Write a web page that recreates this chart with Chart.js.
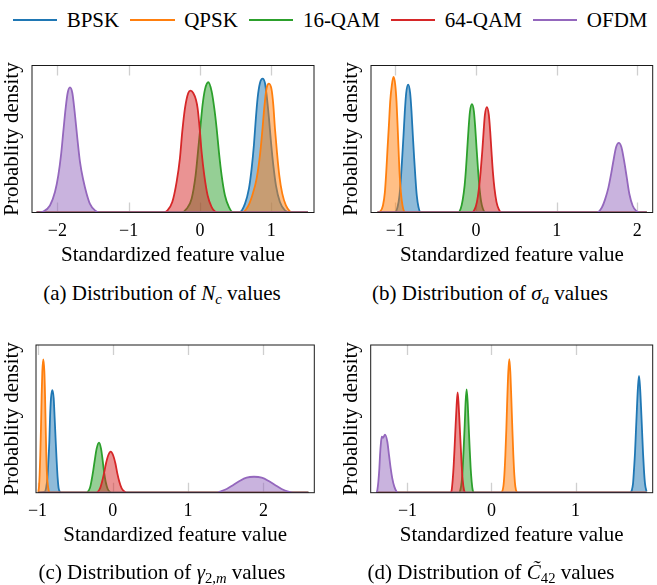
<!DOCTYPE html>
<html>
<head>
<meta charset="utf-8">
<script src="https://cdn.jsdelivr.net/npm/chart.js@4.4.1/dist/chart.umd.min.js"></script>
<style>
  body { margin: 0; width: 657px; height: 585px; background: #fff; position: relative; overflow: hidden;
         font-family: "Liberation Serif", "Times New Roman", serif; color: #000; }
  .legend { position: absolute; left: 12.7px; top: 7.5px; display: flex; align-items: center; font-size: 21px;
            line-height: 25px; white-space: nowrap; width: 660px; }
  .legend .it { display: flex; align-items: center; margin-right: 11px; flex: none; }
  .legend .sw { display: inline-block; width: 44.6px; height: 2px; margin-right: 9.4px; }
  canvas { position: absolute; }
  .cap { position: absolute; font-size: 21px; white-space: nowrap; transform: translate(-50%, -50%); line-height: 25px; }
  .cap sub { font-size: 70%; vertical-align: -0.3em; line-height: 0; }
</style>
</head>
<body>
<div class="legend" id="legend"></div>

<canvas id="chartNc" width="330" height="240" style="left:0px;top:40px"></canvas>
<canvas id="chartSa" width="327" height="240" style="left:330px;top:40px"></canvas>
<canvas id="chartGm" width="330" height="240" style="left:0px;top:320px"></canvas>
<canvas id="chartCq" width="327" height="240" style="left:330px;top:320px"></canvas>

<div class="cap" style="left:162px;top:293px">(a) Distribution of <i>N</i><sub><i>c</i></sub> values</div>
<div class="cap" style="left:490px;top:293px">(b) Distribution of <i>σ</i><sub><i>a</i></sub> values</div>
<div class="cap" style="left:162px;top:572px">(c) Distribution of <i>γ</i><sub>2,<i>m</i></sub> values</div>
<div class="cap" style="left:491px;top:572px">(d) Distribution of <i>C̃</i><sub>42</sub> values</div>

<script>
// series names (legend order)
const seriesNames = ["BPSK", "QPSK", "16-QAM", "64-QAM", "OFDM"];

// tick labels per panel
const ncTicks = [-2, -1, 0, 1];
const saTicks = [-1, 0, 1, 2];
const gmTicks = [-1, 0, 1, 2];
const cqTicks = [-1, 0, 1];

// (a) N_c densities, [value, density]
const ncBPSK = [[-2.29,0],[0.55,0],[0.631,0.059],[0.687,0.162],[0.725,0.299],[0.757,0.459],[0.781,0.619],[0.809,0.779],[0.842,0.881],[0.879,0.911],[0.912,0.881],[0.935,0.801],[0.968,0.642],[0.996,0.482],[1.029,0.322],[1.066,0.185],[1.122,0.071],[1.192,0.014],[1.26,0],[1.515,0]];
const ncQPSK = [[-2.29,0],[0.594,0],[0.669,0.037],[0.734,0.116],[0.795,0.231],[0.842,0.39],[0.874,0.55],[0.902,0.71],[0.935,0.847],[0.968,0.877],[1.005,0.836],[1.029,0.733],[1.052,0.573],[1.08,0.413],[1.113,0.253],[1.155,0.128],[1.206,0.048],[1.262,0.007],[1.3,0],[1.515,0]];
const nc16QAM = [[-2.29,0],[-0.257,0],[-0.187,0.025],[-0.117,0.094],[-0.061,0.253],[-0.023,0.436],[0.009,0.596],[0.037,0.733],[0.07,0.836],[0.117,0.886],[0.164,0.824],[0.201,0.71],[0.234,0.573],[0.266,0.413],[0.304,0.253],[0.351,0.116],[0.407,0.037],[0.467,0],[1.515,0]];
const nc64QAM = [[-2.29,0],[-0.5,0],[-0.467,0.009],[-0.388,0.071],[-0.327,0.208],[-0.281,0.368],[-0.248,0.55],[-0.21,0.71],[-0.164,0.813],[-0.131,0.829],[-0.094,0.813],[-0.056,0.767],[-0.033,0.71],[0.0,0.55],[0.023,0.413],[0.061,0.253],[0.108,0.116],[0.164,0.037],[0.21,0.007],[0.25,0],[1.515,0]];
const ncOFDM = [[-2.29,0],[-2.197,0.007],[-2.104,0.048],[-2.034,0.139],[-1.987,0.253],[-1.949,0.39],[-1.917,0.55],[-1.884,0.71],[-1.856,0.813],[-1.823,0.851],[-1.79,0.813],[-1.758,0.687],[-1.72,0.505],[-1.683,0.345],[-1.636,0.219],[-1.59,0.128],[-1.543,0.059],[-1.473,0.014],[-1.4,0],[1.515,0]];

// (b) sigma_a densities
const saBPSK = [[-1.218,0],[-1.004,0],[-0.971,0.037],[-0.947,0.116],[-0.93,0.231],[-0.914,0.368],[-0.897,0.527],[-0.881,0.687],[-0.864,0.813],[-0.84,0.87],[-0.815,0.813],[-0.798,0.687],[-0.782,0.527],[-0.765,0.368],[-0.749,0.231],[-0.733,0.116],[-0.712,0.037],[-0.683,0],[2.115,0]];
const saQPSK = [[-1.218,0],[-1.185,0.007],[-1.152,0.048],[-1.128,0.139],[-1.111,0.276],[-1.095,0.436],[-1.078,0.596],[-1.062,0.756],[-1.041,0.87],[-1.021,0.922],[-1.0,0.87],[-0.984,0.756],[-0.971,0.596],[-0.959,0.436],[-0.947,0.276],[-0.93,0.139],[-0.91,0.048],[-0.889,0.007],[-0.86,0],[2.115,0]];
const sa16QAM = [[-1.218,0],[-0.222,0],[-0.189,0.025],[-0.165,0.082],[-0.14,0.185],[-0.123,0.299],[-0.107,0.436],[-0.091,0.573],[-0.074,0.687],[-0.049,0.737],[-0.025,0.687],[-0.008,0.573],[0.008,0.436],[0.025,0.299],[0.041,0.185],[0.062,0.082],[0.086,0.025],[0.119,0],[2.115,0]];
const sa64QAM = [[-1.218,0],[-0.053,0],[-0.016,0.021],[0.012,0.071],[0.037,0.162],[0.058,0.276],[0.078,0.413],[0.095,0.55],[0.111,0.664],[0.136,0.717],[0.16,0.664],[0.177,0.55],[0.193,0.413],[0.21,0.276],[0.23,0.162],[0.255,0.071],[0.284,0.021],[0.317,0],[2.115,0]];
const saOFDM = [[-1.218,0],[1.498,0],[1.56,0.034],[1.601,0.091],[1.642,0.171],[1.675,0.263],[1.704,0.354],[1.737,0.445],[1.77,0.473],[1.802,0.445],[1.835,0.354],[1.868,0.24],[1.901,0.126],[1.942,0.046],[1.992,0.007],[2.033,0],[2.115,0]];

// (c) gamma_2,m densities
const gmBPSK = [[-0.989,0],[-0.905,0.005],[-0.887,0.029],[-0.869,0.097],[-0.856,0.21],[-0.843,0.345],[-0.834,0.503],[-0.821,0.639],[-0.803,0.695],[-0.785,0.639],[-0.772,0.503],[-0.758,0.345],[-0.745,0.21],[-0.732,0.097],[-0.719,0.029],[-0.701,0.005],[-0.68,0],[2.597,0]];
const gmQPSK = [[-0.989,0.005],[-0.98,0.041],[-0.972,0.12],[-0.963,0.255],[-0.954,0.436],[-0.945,0.661],[-0.936,0.82],[-0.923,0.903],[-0.909,0.82],[-0.9,0.661],[-0.891,0.436],[-0.883,0.255],[-0.874,0.12],[-0.86,0.041],[-0.847,0.007],[-0.83,0],[2.597,0]];
const gm16QAM = [[-0.989,0],[-0.36,0],[-0.303,0.034],[-0.281,0.086],[-0.259,0.153],[-0.236,0.233],[-0.214,0.3],[-0.183,0.339],[-0.157,0.3],[-0.135,0.221],[-0.117,0.142],[-0.095,0.074],[-0.068,0.025],[-0.037,0.005],[-0.02,0],[2.597,0]];
const gm64QAM = [[-0.989,0],[-0.22,0],[-0.17,0.029],[-0.143,0.074],[-0.117,0.131],[-0.09,0.199],[-0.059,0.255],[-0.028,0.278],[0.003,0.255],[0.034,0.199],[0.06,0.131],[0.087,0.074],[0.118,0.029],[0.162,0.005],[0.18,0],[2.597,0]];
const gmOFDM = [[-0.989,0],[1.38,0],[1.423,0.007],[1.512,0.025],[1.6,0.052],[1.689,0.081],[1.777,0.102],[1.875,0.108],[1.977,0.102],[2.065,0.081],[2.154,0.052],[2.242,0.025],[2.331,0.007],[2.4,0],[2.597,0]];

// (d) C~42 densities
const cqBPSK = [[-1.367,0],[1.649,0],[1.669,0.014],[1.685,0.063],[1.696,0.153],[1.708,0.266],[1.72,0.424],[1.732,0.582],[1.744,0.718],[1.756,0.79],[1.768,0.718],[1.78,0.582],[1.792,0.424],[1.804,0.266],[1.815,0.153],[1.827,0.063],[1.843,0.014],[1.847,0.008]];
const cqQPSK = [[-1.367,0],[0.11,0],[0.141,0.041],[0.153,0.12],[0.165,0.255],[0.177,0.436],[0.188,0.639],[0.2,0.819],[0.212,0.905],[0.224,0.819],[0.236,0.639],[0.248,0.436],[0.26,0.255],[0.272,0.12],[0.284,0.041],[0.3,0.005],[0.315,0],[1.847,0]];
const cq16QAM = [[-1.367,0],[-0.387,0],[-0.371,0.018],[-0.355,0.074],[-0.343,0.165],[-0.331,0.3],[-0.319,0.458],[-0.308,0.616],[-0.296,0.7],[-0.284,0.616],[-0.272,0.458],[-0.26,0.3],[-0.248,0.165],[-0.236,0.074],[-0.224,0.018],[-0.208,0],[1.847,0]];
const cq64QAM = [[-1.367,0],[-0.486,0],[-0.474,0.018],[-0.462,0.086],[-0.45,0.187],[-0.438,0.323],[-0.427,0.458],[-0.415,0.594],[-0.403,0.679],[-0.391,0.594],[-0.379,0.458],[-0.367,0.323],[-0.355,0.187],[-0.343,0.086],[-0.327,0.018],[-0.312,0],[1.847,0]];
const cqOFDM = [[-1.367,0],[-1.359,0.018],[-1.347,0.074],[-1.335,0.165],[-1.327,0.255],[-1.315,0.345],[-1.306,0.38],[-1.29,0.372],[-1.268,0.393],[-1.24,0.345],[-1.22,0.255],[-1.2,0.165],[-1.181,0.097],[-1.157,0.041],[-1.129,0.007],[-1.11,0],[1.847,0]];

const colors = ["#1f77b4", "#ff7f0e", "#2ca02c", "#d62728", "#9467bd"];
const fills = ["rgba(31,119,180,0.5)", "rgba(255,127,14,0.5)", "rgba(44,160,44,0.5)", "rgba(214,39,40,0.5)", "rgba(148,103,189,0.5)"];

Chart.defaults.font.family = '"Liberation Serif", "Times New Roman", serif';
Chart.defaults.color = "#000";

// legend
const legendEl = document.getElementById("legend");
seriesNames.forEach((name, i) => {
  const it = document.createElement("span");
  it.className = "it";
  it.innerHTML = `<span class="sw" style="background:${colors[i]}"></span><span>${name}</span>`;
  legendEl.appendChild(it);
});

const fmtTick = v => (v < 0 ? "\u2212" + Math.abs(v) : String(v));

// light inner tick marks + black frame
const frame = {
  id: "frame",
  beforeDatasetsDraw(chart) {
    const { ctx, chartArea: a, scales: { x } } = chart;
    ctx.save();
    ctx.strokeStyle = "#cfcfcf";
    ctx.lineWidth = 1.3;
    x.ticks.forEach(t => {
      const px = Math.round(x.getPixelForValue(t.value)) + 0.5;
      ctx.beginPath();
      ctx.moveTo(px, a.top); ctx.lineTo(px, a.top + 10);
      ctx.moveTo(px, a.bottom); ctx.lineTo(px, a.bottom - 10);
      ctx.stroke();
    });
    ctx.restore();
  },
  afterDatasetsDraw(chart) {
    const { ctx, chartArea: a } = chart;
    ctx.save();
    ctx.strokeStyle = "#1a1a1a";
    ctx.lineWidth = 1;
    ctx.strokeRect(a.left, a.top, a.right - a.left, a.bottom - a.top);
    ctx.restore();
  }
};

function makePanel(id, series, ticks, xMin, xMax, pos) {
  const datasets = series.map((pts, i) => ({
    label: seriesNames[i],
    data: pts.map(([x, y]) => ({ x, y })),
    borderColor: colors[i],
    backgroundColor: fills[i],
    borderWidth: 1.8,
    fill: "origin",
    pointRadius: 0,
    cubicInterpolationMode: "monotone",
    order: series.length - i
  }));

  new Chart(document.getElementById(id), {
    type: "line",
    data: { datasets },
    plugins: [frame],
    options: {
      responsive: false,
      animation: false,
      layout: { padding: { top: pos.box.t - pos.top, right: pos.left + pos.w - pos.box.r, bottom: 0, left: 0 } },
      plugins: { legend: { display: false }, tooltip: { enabled: false } },
      scales: {
        x: {
          type: "linear",
          min: xMin,
          max: xMax,
          bounds: "data",
          afterBuildTicks: s => { s.ticks = ticks.map(v => ({ value: v })); },
          afterFit: s => { s.height = pos.top + pos.h - pos.box.b; },
          grid: { display: false, drawTicks: false },
          border: { display: false },
          ticks: { padding: 8, font: { size: 18 }, color: "#000", autoSkip: false, maxRotation: 0, callback: fmtTick },
          title: { display: true, text: "Standardized feature value", color: "#000",
                   font: { size: 21, lineHeight: 1.1 }, padding: { top: 0, bottom: 13 } }
        },
        y: {
          min: 0,
          max: 1,
          afterFit: s => { s.width = pos.box.l - pos.left; },
          grid: { display: false, drawTicks: false },
          border: { display: false },
          ticks: { display: false },
          title: { display: true, text: "Probablity density", color: "#000",
                   font: { size: 21, lineHeight: 1.1 }, padding: { top: pos.yPad, bottom: 0 } }
        }
      }
    }
  });
}

makePanel("chartNc", [ncBPSK, ncQPSK, nc16QAM, nc64QAM, ncOFDM], ncTicks, -2.356, 1.6,
  { left: 0, top: 40, w: 330, h: 240, yPad: 0.5, box: { l: 32, t: 65.5, r: 314, b: 212.5 } });
makePanel("chartSa", [saBPSK, saQPSK, sa16QAM, sa64QAM, saOFDM], saTicks, -1.3, 2.19,
  { left: 330, top: 40, w: 327, h: 240, yPad: 10, box: { l: 371, t: 65.5, r: 652.7, b: 212.5 } });
makePanel("chartGm", [gmBPSK, gmQPSK, gm16QAM, gm64QAM, gmOFDM], gmTicks, -1.02, 2.676,
  { left: 0, top: 320, w: 330, h: 240, yPad: 0.5, box: { l: 36, t: 345, r: 314.3, b: 492.7 } });
makePanel("chartCq", [cqBPSK, cqQPSK, cq16QAM, cq64QAM, cqOFDM], cqTicks, -1.438, 1.919,
  { left: 330, top: 320, w: 327, h: 240, yPad: 10, box: { l: 370.7, t: 345, r: 652.7, b: 492.7 } });
</script>
</body>
</html>
